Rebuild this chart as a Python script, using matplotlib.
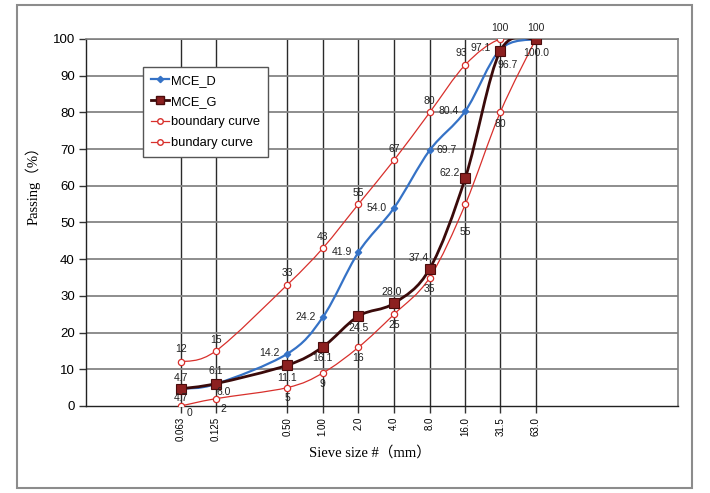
import numpy as np
import matplotlib
matplotlib.use("Agg")
import matplotlib.pyplot as plt
from matplotlib.path import Path
from matplotlib.patches import PathPatch, Rectangle
from matplotlib.lines import Line2D

# --- data ---
sieve_sizes = [0.063, 0.125, 0.50, 1.00, 2.0, 4.0, 8.0, 16.0, 31.5, 63.0]
sieve_labels = ["0.063", "0.125", "0.50", "1.00", "2.0", "4.0", "8.0", "16.0", "31.5", "63.0"]

mce_d = [4.7, 6.0, 14.2, 24.2, 41.9, 54.0, 69.7, 80.4, 97.1, 100.0]
mce_g = [4.7, 6.1, 11.1, 16.1, 24.5, 28.0, 37.4, 62.2, 96.7, 100.0]
upper_bound = [12, 15, 33, 43, 55, 67, 80, 93, 100, 100]
lower_bound = [0, 2, 5, 9, 16, 25, 35, 55, 80, 100]

mce_d_text = ["4.7", "6.0", "14.2", "24.2", "41.9", "54.0", "69.7", "80.4", "97.1", None]
mce_g_text = ["4.7", "6.1", "11.1", "16.1", "24.5", "28.0", "37.4", "62.2", "96.7", "100.0"]
upper_text = ["12", "15", "33", "43", "55", "67", "80", "93", "100", None]
lower_text = ["0", "2", "5", "9", "16", "25", "35", "55", "80", "100"]

# label offsets in pixels (dx, dy), roughly where Excel put them
mce_d_off = [(0, -9), (8, -8), (-18, 1), (-17, 0), (-17, 0), (-17, 0), (17, 0), (-17, 0), (-20, 2), (0, 0)]
mce_g_off = [(0, 11), (0, 13), (0, -13), (0, -11), (0, -12), (-2, 11), (-11, 11), (-16, 5), (7, -14), (0, -14)]
upper_off = [(0, 13), (0, 11), (0, 12), (0, 11), (0, 11), (0, 11), (0, 11), (-4, 12), (0, 11), (0, 0)]
lower_off = [(9, -7), (8, -10), (0, -10), (0, -11), (0, -11), (0, -11), (0, -11), (0, -28), (0, -12), (0, 11)]

SANS = "Liberation Sans"
SERIF = ["Liberation Serif", "Noto Sans CJK SC"]


def smooth_path(xs, ys):
    """Excel-like smoothed line: Catmull-Rom as cubic Bezier in log-x space."""
    p = np.column_stack([np.log10(xs), np.asarray(ys, float)])
    n = len(p)
    verts = [p[0]]
    codes = [Path.MOVETO]
    for i in range(n - 1):
        prev_pt = p[max(i - 1, 0)]
        next_pt = p[min(i + 2, n - 1)]
        c1 = p[i] + (p[i + 1] - prev_pt) / 6.0
        c2 = p[i + 1] - (next_pt - p[i]) / 6.0
        verts += [c1, c2, p[i + 1]]
        codes += [Path.CURVE4] * 3
    verts = np.array(verts)
    verts[:, 0] = 10 ** verts[:, 0]
    return Path(verts, codes)


def draw_series(ax, ys, line_color, lw, marker_kw, z):
    ax.add_patch(PathPatch(smooth_path(sieve_sizes, ys), facecolor="none",
                           edgecolor=line_color, lw=lw, zorder=z))
    ax.plot(sieve_sizes, ys, linestyle="none", zorder=z + 0.5, **marker_kw)


def label_series(ax, ys, texts, offsets):
    for x, y, t, (dx, dy) in zip(sieve_sizes, ys, texts, offsets):
        if t is None:
            continue
        ax.annotate(t, (x, y), xytext=(dx, dy), textcoords="offset pixels",
                    ha="center", va="center", fontsize=7.5, family=SANS,
                    color="#222222", zorder=6, annotation_clip=False)


fig = plt.figure(figsize=(7.10, 4.93), dpi=100)
ax = fig.add_axes([86 / 710, 1 - 406 / 493, (678 - 86) / 710, (406 - 39) / 493])

blue = "#3572c6"
maroon_line = "#3a0a0a"
maroon = "#8c2020"
red = "#d8302c"

ax.set_xscale("log")
ax.set_xlim(0.01, 1000)
ax.set_ylim(0, 100)

# grid: dark vertical lines at sieve sizes, grey horizontals every 10
for x in sieve_sizes:
    ax.axvline(x, color="#2a2a2a", lw=1.0, zorder=1)
for y in range(10, 101, 10):
    ax.axhline(y, color="#858585", lw=1.3, zorder=1)

draw_series(ax, lower_bound, red, 0.9,
            dict(marker="o", markersize=4.5, markerfacecolor="white",
                 markeredgecolor=red, markeredgewidth=0.9), 3)
draw_series(ax, upper_bound, red, 0.9,
            dict(marker="o", markersize=4.5, markerfacecolor="white",
                 markeredgecolor=red, markeredgewidth=0.9), 3)
draw_series(ax, mce_d, blue, 1.6,
            dict(marker="D", markersize=3.2, color=blue), 4)
draw_series(ax, mce_g, maroon_line, 2.0,
            dict(marker="s", markersize=6.5, markerfacecolor=maroon,
                 markeredgecolor="#4a0c0c", markeredgewidth=0.8), 5)

label_series(ax, upper_bound, upper_text, upper_off)
label_series(ax, lower_bound, lower_text, lower_off)
label_series(ax, mce_d, mce_d_text, mce_d_off)
label_series(ax, mce_g, mce_g_text, mce_g_off)

# axes, ticks
ax.set_xticks(sieve_sizes)
ax.set_xticklabels(sieve_labels, rotation=90, fontsize=7, family=SANS)
ax.xaxis.set_minor_locator(matplotlib.ticker.NullLocator())
ax.set_yticks(range(0, 101, 10))
ax.set_yticklabels([str(v) for v in range(0, 101, 10)], fontsize=9.5, family=SANS)
ax.tick_params(axis="both", direction="out", length=5, width=1, color="#333333", pad=3)
for side in ("left", "bottom"):
    ax.spines[side].set_color("#222222")
    ax.spines[side].set_linewidth(1.0)
for side in ("top", "right"):
    ax.spines[side].set_color("#808080")
    ax.spines[side].set_linewidth(1.2)

fig.text(33 / 710, 1 - 182 / 493, "Passing（%）", rotation=90, ha="center", va="center",
         fontsize=10.5, family=SERIF)
fig.text(370 / 710, 1 - 453 / 493, "Sieve size #（mm）", ha="center", va="center",
         fontsize=10.5, family=SERIF)

handles = [
    Line2D([], [], color=blue, lw=1.6, marker="D", markersize=3.2),
    Line2D([], [], color=maroon_line, lw=2.0, marker="s", markersize=5.5,
           markerfacecolor=maroon, markeredgecolor="#4a0c0c"),
    Line2D([], [], color=red, lw=0.9, marker="o", markersize=4, markerfacecolor="white",
           markeredgecolor=red),
    Line2D([], [], color=red, lw=0.9, marker="o", markersize=4, markerfacecolor="white",
           markeredgecolor=red),
]
leg = ax.legend(handles, ["MCE_D", "MCE_G", "boundary curve", "bundary curve"],
                loc="upper left", bbox_to_anchor=((143 - 86) / 592, (406 - 67) / 367),
                borderaxespad=0, fancybox=False, framealpha=1, edgecolor="#555555",
                prop={"family": SANS, "size": 9.3}, handlelength=1.4, handletextpad=0.2,
                labelspacing=0.68, borderpad=0.6)
leg.get_frame().set_linewidth(1.0)
leg.set_zorder(10)

# light frame around the whole figure
fig.patches.append(Rectangle((17 / 710, 5 / 493), (692 - 17) / 710, (488 - 5) / 493,
                             transform=fig.transFigure, fill=False,
                             edgecolor="#8c8c8c", lw=1.5))

fig.savefig("out.png", dpi=100)
